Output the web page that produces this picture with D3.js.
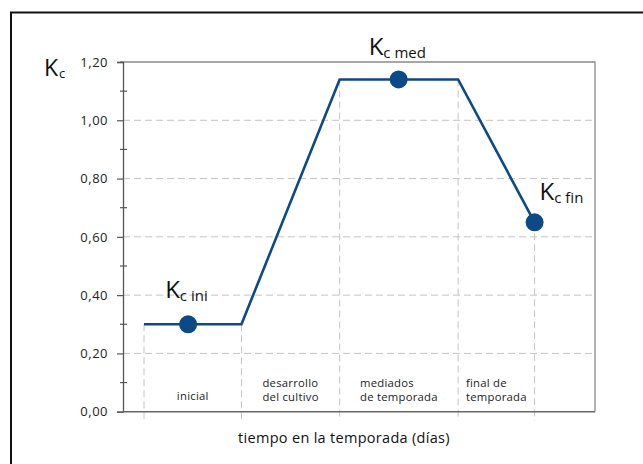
<!DOCTYPE html>
<html><head><meta charset="utf-8">
<script src="https://cdn.jsdelivr.net/npm/d3@7"></script>
<style>html,body{margin:0;padding:0;background:#fff;}svg{display:block;font-family:"Open Sans","Noto Sans",sans-serif;}</style>
</head><body>
<script>
// ---- data ----
const yTicks = [0, 0.2, 0.4, 0.6, 0.8, 1.0, 1.2];
const yTickLabels = ["0,00", "0,20", "0,40", "0,60", "0,80", "1,00", "1,20"];
const yMinorTicks = [0.1, 0.3, 0.5, 0.7, 0.9, 1.1];
const curveDays = [4.45, 25.1, 45.9, 71.0, 87.2];      // stage boundaries (days)
const curveKc = [0.30, 0.30, 1.14, 1.14, 0.65];
const stageNames = [["inicial"], ["desarrollo", "del cultivo"], ["mediados", "de temporada"], ["final de", "temporada"]];
const markerDays = [13.8, 58.4, 87.2];
const markerKc = [0.30, 1.14, 0.65];
const markerSub = ["c ini", "c med", "c fin"];
const xTitle = "tiempo en la temporada (días)";

const W = 643, H = 464;
const svg = d3.select("body").append("svg").attr("width", W).attr("height", H);
svg.append("rect").attr("width", W).attr("height", H).attr("fill", "#fff");
// outer frame
svg.append("rect").attr("x", 11).attr("y", 12.5).attr("width", 700).attr("height", 600)
  .attr("fill", "none").attr("stroke", "#111").attr("stroke-width", 2);

const x = d3.scaleLinear().domain([0, 100]).range([123, 595]);
const y = d3.scaleLinear().domain([0, 1.2]).range([411.7, 62]);
const navy = "#0b4a86";
const FONT = "'Open Sans',sans-serif";

// horizontal dashed grid
svg.append("g").selectAll("line").data(yTicks.filter(d => d > 0 && d < 1.2)).join("line")
  .attr("x1", x(0)).attr("x2", x(100)).attr("y1", d => y(d)).attr("y2", d => y(d))
  .attr("stroke", "#c4c4c4").attr("stroke-width", 1).attr("stroke-dasharray", "7,4");
// vertical dashed lines from curve down below axis
svg.append("g").selectAll("line").data(curveDays.map((d, i) => [d, curveKc[i]])).join("line")
  .attr("x1", d => x(d[0])).attr("x2", d => x(d[0]))
  .attr("y1", d => y(d[1])).attr("y2", y(0) + 9)
  .attr("stroke", "#c4c4c4").attr("stroke-width", 1).attr("stroke-dasharray", "7,4");
// frame top and right
svg.append("path").attr("d", `M${x(0) - 3},${y(1.2)}H${x(100)}V${y(0)}`)
  .attr("fill", "none").attr("stroke", "#8a8a8a").attr("stroke-width", 1.3);

// y axis
const yAxis = d3.axisLeft(y).tickValues(yTicks).tickFormat((d, i) => yTickLabels[i]).tickSize(6).tickPadding(9);
const gy = svg.append("g").attr("transform", `translate(${x(0)},0)`).call(yAxis);
gy.select(".domain").attr("stroke", "#555").attr("stroke-width", 1.3);
gy.selectAll(".tick line").attr("stroke", "#555").attr("stroke-width", 1.2);
gy.selectAll(".tick text").attr("font-size", 13).attr("letter-spacing", 0.5).attr("fill", "#222").attr("font-family", FONT);
// minor ticks crossing axis
svg.append("g").selectAll("line").data(yMinorTicks).join("line")
  .attr("x1", x(0) - 3).attr("x2", x(0) + 4).attr("y1", d => y(d)).attr("y2", d => y(d))
  .attr("stroke", "#555").attr("stroke-width", 1.2);
// x axis line
svg.append("line").attr("x1", x(0)).attr("x2", x(100)).attr("y1", y(0)).attr("y2", y(0))
  .attr("stroke", "#666").attr("stroke-width", 1.5);

// curve
const line = d3.line().x(d => x(d[0])).y(d => y(d[1]));
svg.append("path").datum(curveDays.map((d, i) => [d, curveKc[i]]))
  .attr("d", line).attr("fill", "none").attr("stroke", navy).attr("stroke-width", 2.6)
  .attr("stroke-linejoin", "miter");

// markers
svg.append("g").selectAll("circle").data(markerDays.map((d, i) => [d, markerKc[i]])).join("circle")
  .attr("cx", d => x(d[0])).attr("cy", d => y(d[1])).attr("r", 9).attr("fill", navy);

// marker labels
const labelOffsets = [[-23, -26], [-30, -24], [5, -22]];
markerDays.forEach((d, i) => {
  const t = svg.append("text").attr("x", x(d) + labelOffsets[i][0]).attr("y", y(markerKc[i]) + labelOffsets[i][1])
    .attr("fill", "#111").attr("font-family", FONT).attr("font-weight", 500);
  t.append("tspan").attr("font-size", 24).text("K");
  t.append("tspan").attr("font-size", 15).attr("dy", 3).attr("dx", 0).text(markerSub[i]);
});

// y label Kc
const ky = svg.append("text").attr("x", 44).attr("y", 76).attr("fill", "#111").attr("font-family", FONT).attr("font-weight", 500);
ky.append("tspan").attr("font-size", 23).text("K");
ky.append("tspan").attr("font-size", 13).attr("dy", 2).attr("dx", 1).text("c");

// stage labels, left-aligned blocks centred in each stage
stageNames.forEach((lines, i) => {
  const mid = (x(curveDays[i]) + x(curveDays[i + 1])) / 2;
  const g = svg.append("g");
  const t = g.append("text").attr("font-size", 11.3).attr("letter-spacing", 0.25).attr("fill", "#222").attr("font-family", FONT);
  const base = lines.length === 1 ? [400] : [387, 401];
  lines.forEach((s, j) => t.append("tspan").attr("x", 0).attr("y", base[j]).text(s));
  const bb = t.node().getBBox();
  g.attr("transform", `translate(${mid - bb.width / 2},0)`);
});

// x title
svg.append("text").attr("x", 344).attr("y", 443).attr("text-anchor", "middle")
  .attr("font-size", 14.5).attr("letter-spacing", 0.3).attr("fill", "#111").attr("font-family", FONT).text(xTitle);
</script>
</body></html>
